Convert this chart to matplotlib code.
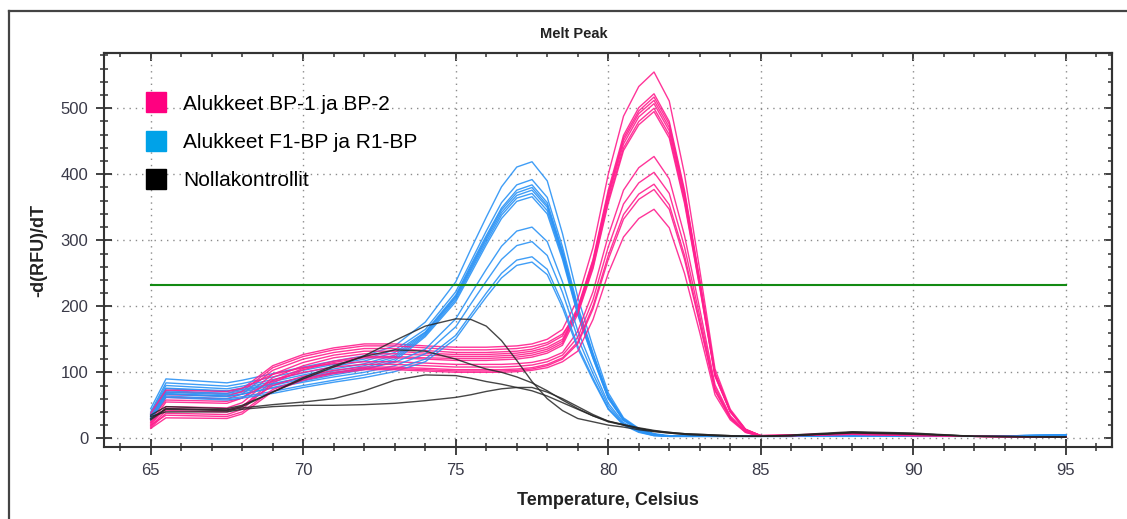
import matplotlib
matplotlib.use('Agg')
import matplotlib.pyplot as plt
from matplotlib.lines import Line2D
from matplotlib.ticker import MultipleLocator

###############################################################################
# Data
###############################################################################

temps = [65, 65.5, 67.5, 68, 69, 70, 71, 72, 73, 74, 75, 75.5, 76, 76.5, 77,
         77.5, 78, 78.5, 79, 79.5, 80, 80.5, 81, 81.5, 82, 82.5, 83, 83.5,
         84, 84.5, 85, 86, 88, 90, 92, 95]

# primers BP-1 / BP-2 (pink)
pink_curves = [
    [30, 70, 68, 75, 110, 127, 137, 143, 143, 140, 138, 138, 138, 139, 140, 143, 150, 165, 211, 289, 400, 488, 533, 555, 511, 400, 255, 105, 44, 14, 4, 4, 7, 5, 3, 2],
    [25, 62, 60, 67, 103, 120, 130, 136, 136, 133, 130, 130, 130, 131, 132, 135, 142, 155, 198, 271, 376, 459, 501, 522, 480, 376, 240, 99, 42, 13, 4, 5, 8, 5, 3, 3],
    [22, 55, 53, 61, 97, 115, 126, 132, 132, 129, 127, 127, 127, 128, 129, 132, 138, 150, 196, 269, 372, 455, 496, 517, 476, 372, 238, 98, 41, 13, 4, 4, 6, 5, 3, 2],
    [20, 48, 46, 54, 92, 110, 122, 128, 128, 126, 124, 124, 124, 125, 126, 129, 135, 147, 195, 266, 369, 451, 492, 512, 471, 369, 236, 97, 41, 13, 4, 5, 7, 5, 3, 3],
    [18, 42, 40, 48, 87, 106, 117, 124, 124, 122, 121, 121, 121, 122, 123, 126, 132, 144, 193, 264, 365, 446, 487, 507, 466, 365, 233, 96, 41, 13, 4, 4, 6, 4, 3, 2],
    [34, 66, 64, 71, 107, 124, 134, 140, 140, 137, 134, 134, 134, 135, 136, 139, 145, 158, 190, 260, 360, 440, 480, 500, 460, 360, 230, 95, 40, 13, 4, 5, 8, 5, 3, 3],
    [16, 38, 36, 44, 84, 104, 115, 122, 122, 120, 118, 118, 118, 119, 120, 123, 129, 141, 188, 257, 356, 436, 475, 495, 455, 356, 228, 94, 40, 12, 4, 4, 6, 4, 3, 2],
    [38, 73, 71, 76, 97, 107, 113, 116, 116, 114, 112, 112, 112, 112, 113, 115, 120, 130, 162, 222, 307, 376, 410, 427, 393, 307, 196, 81, 34, 11, 3, 4, 7, 5, 3, 2],
    [28, 58, 56, 61, 88, 100, 108, 112, 112, 110, 108, 108, 108, 108, 109, 111, 116, 126, 153, 210, 290, 355, 387, 403, 371, 290, 185, 77, 32, 10, 3, 4, 6, 4, 3, 2],
    [24, 45, 43, 49, 80, 94, 103, 108, 108, 106, 104, 104, 104, 104, 105, 107, 112, 122, 146, 200, 277, 339, 370, 385, 354, 277, 177, 73, 31, 10, 3, 4, 7, 5, 3, 2],
    [20, 35, 33, 40, 74, 90, 100, 106, 106, 104, 102, 102, 102, 102, 103, 105, 110, 120, 143, 196, 271, 332, 362, 377, 347, 271, 173, 72, 30, 9, 3, 4, 6, 4, 3, 2],
    [15, 31, 30, 37, 71, 88, 98, 104, 104, 102, 100, 100, 100, 100, 101, 103, 107, 116, 132, 180, 250, 305, 333, 347, 319, 250, 160, 66, 28, 9, 3, 4, 6, 4, 3, 2],
]

# primers F1-BP / R1-BP (blue)
blue_curves = [
    [45, 90, 84, 88, 98, 108, 117, 125, 140, 176, 237, 287, 335, 381, 411, 419, 390, 310, 214, 138, 69, 31, 15, 7, 4, 3, 3, 3, 3, 3, 3, 3, 4, 4, 3, 5],
    [40, 84, 79, 83, 93, 103, 112, 120, 134, 165, 222, 268, 314, 357, 384, 392, 365, 290, 200, 129, 65, 29, 14, 6, 3, 3, 3, 3, 3, 3, 3, 3, 4, 4, 3, 4],
    [38, 80, 75, 79, 89, 99, 109, 117, 130, 161, 217, 263, 307, 349, 376, 384, 357, 284, 196, 127, 63, 29, 13, 6, 3, 3, 3, 3, 3, 3, 3, 3, 4, 3, 3, 5],
    [36, 76, 72, 76, 86, 96, 105, 113, 126, 160, 215, 260, 304, 346, 372, 380, 353, 281, 194, 125, 63, 28, 13, 6, 3, 3, 3, 3, 3, 3, 3, 3, 4, 4, 3, 5],
    [34, 72, 68, 72, 82, 92, 102, 110, 123, 158, 213, 257, 301, 342, 368, 376, 350, 278, 192, 124, 62, 28, 13, 6, 3, 3, 3, 3, 3, 3, 3, 3, 3, 4, 3, 4],
    [33, 70, 66, 70, 80, 90, 99, 107, 120, 156, 210, 254, 297, 338, 364, 371, 345, 275, 189, 122, 61, 28, 13, 6, 3, 3, 3, 3, 3, 3, 3, 3, 4, 4, 3, 5],
    [31, 67, 63, 67, 77, 87, 96, 104, 117, 154, 207, 250, 293, 333, 359, 366, 340, 271, 187, 121, 60, 27, 13, 6, 3, 3, 3, 3, 3, 3, 3, 3, 4, 3, 3, 4],
    [36, 75, 71, 74, 83, 92, 99, 105, 115, 135, 181, 219, 256, 291, 314, 320, 298, 237, 163, 106, 53, 24, 11, 5, 3, 3, 3, 3, 3, 3, 3, 3, 4, 4, 3, 5],
    [32, 68, 64, 67, 76, 85, 93, 100, 110, 128, 169, 204, 238, 271, 292, 298, 277, 221, 152, 98, 49, 22, 10, 5, 3, 3, 3, 3, 3, 3, 3, 3, 3, 4, 3, 4],
    [30, 64, 60, 63, 71, 80, 88, 96, 105, 120, 156, 188, 220, 250, 270, 275, 256, 204, 140, 91, 45, 21, 10, 4, 3, 3, 3, 3, 3, 3, 3, 3, 4, 4, 3, 5],
    [28, 62, 58, 61, 68, 77, 85, 92, 101, 116, 151, 183, 214, 243, 262, 267, 248, 198, 136, 88, 44, 20, 9, 4, 3, 3, 3, 3, 3, 3, 3, 3, 4, 3, 3, 4],
]

# no template controls (black)
black_curves = [
    [35, 48, 45, 50, 70, 90, 108, 125, 148, 170, 181, 180, 170, 148, 118, 86, 60, 42, 30, 25, 20, 17, 13, 10, 8, 6, 5, 4, 3, 3, 3, 4, 9, 7, 3, 2],
    [30, 45, 43, 48, 70, 92, 110, 124, 134, 132, 120, 112, 105, 100, 93, 84, 72, 58, 45, 34, 25, 20, 15, 11, 9, 7, 6, 5, 4, 3, 3, 5, 10, 8, 3, 2],
    [28, 44, 42, 46, 51, 55, 60, 72, 88, 96, 95, 91, 86, 82, 77, 72, 64, 54, 44, 34, 26, 20, 15, 11, 8, 6, 5, 4, 3, 3, 3, 4, 8, 6, 3, 2],
    [33, 40, 40, 44, 48, 50, 50, 51, 53, 57, 62, 66, 71, 75, 77, 77, 70, 60, 48, 36, 26, 21, 16, 12, 9, 7, 6, 5, 4, 3, 3, 4, 9, 7, 3, 2],
]

threshold = 232
threshold_range = [65, 95]

legend_labels = ['Alukkeet BP-1 ja BP-2', 'Alukkeet F1-BP ja R1-BP', 'Nollakontrollit']

###############################################################################
# Style
###############################################################################

pink = '#ff1f8e'
blue = '#2b93f5'
black = '#262626'
legend_colors = ['#ff0080', '#00a2e8', '#000000']
tick_color = '#3a3a48'

plt.rcParams['font.family'] = ['Liberation Sans', 'DejaVu Sans']

fig = plt.figure(figsize=(11.27, 5.19), dpi=100)
ax = fig.add_axes([0.0926, 0.1387, 0.8945, 0.7592])

###############################################################################
# Curves
###############################################################################

for i in range(max(len(pink_curves), len(blue_curves))):
    if i < len(blue_curves):
        ax.plot(temps, blue_curves[i], color=blue, lw=1.0, alpha=0.9, zorder=3)
    if i < len(pink_curves):
        ax.plot(temps, pink_curves[i], color=pink, lw=1.0, alpha=0.9, zorder=3)
for curve in black_curves:
    ax.plot(temps, curve, color=black, lw=1.0, alpha=0.85, zorder=4)

ax.plot(threshold_range, [threshold, threshold], color='#138a13', lw=1.5, zorder=5)

###############################################################################
# Axes
###############################################################################

ax.set_xlim(63.48, 96.53)
ax.set_ylim(-13.2, 583.8)

ax.xaxis.set_major_locator(MultipleLocator(5))
ax.xaxis.set_minor_locator(MultipleLocator(1))
ax.yaxis.set_major_locator(MultipleLocator(100))
ax.yaxis.set_minor_locator(MultipleLocator(20))

ax.tick_params(which='major', direction='inout', length=11, width=1.3,
               color='#333333', labelsize=12, labelcolor=tick_color, pad=6)
ax.tick_params(which='minor', direction='inout', length=6, width=1.1,
               color='#333333')

for s in ax.spines.values():
    s.set_linewidth(1.5)
    s.set_color('#333333')

# inward ticks on top and right spines
secx = ax.secondary_xaxis('top')
secx.xaxis.set_major_locator(MultipleLocator(5))
secx.xaxis.set_minor_locator(MultipleLocator(1))
secx.tick_params(which='major', direction='in', length=6, width=1.3,
                 color='#333333', labeltop=False)
secx.tick_params(which='minor', direction='in', length=3, width=1.1,
                 color='#333333')
secx.spines['top'].set_linewidth(1.5)
secx.spines['top'].set_color('#333333')

secy = ax.secondary_yaxis('right')
secy.yaxis.set_major_locator(MultipleLocator(100))
secy.yaxis.set_minor_locator(MultipleLocator(20))
secy.tick_params(which='major', direction='in', length=6, width=1.3,
                 color='#333333', labelright=False)
secy.tick_params(which='minor', direction='in', length=3, width=1.1,
                 color='#333333')
secy.spines['right'].set_linewidth(1.5)
secy.spines['right'].set_color('#333333')

ax.grid(which='major', linestyle=(0, (1, 3.5)), color='#8c8c8c', lw=1.0)
ax.set_axisbelow(True)

ax.set_xlabel('Temperature, Celsius', fontsize=13, fontweight='bold',
              color='#222222', va='center')
ax.xaxis.set_label_coords(0.5, -0.1345)
ax.set_ylabel('-d(RFU)/dT', fontsize=13, fontweight='bold',
              color='#222222', va='center')
ax.yaxis.set_label_coords(-0.0655, 0.5)

fig.text(574 / 1127, 1 - 34 / 519, 'Melt Peak', fontsize=10.5,
         fontweight='bold', color='#222222', ha='center', va='center')

###############################################################################
# Legend and outer frame
###############################################################################

handles = [Line2D([], [], marker='s', linestyle='none', markersize=14.4,
                  markerfacecolor=c, markeredgecolor=c) for c in legend_colors]
ax.legend(handles, legend_labels, loc='upper left',
          bbox_to_anchor=(145.3 / 1127, 1 - 94.5 / 519),
          bbox_transform=fig.transFigure, frameon=False, fontsize=15,
          handlelength=1.0, handletextpad=0.8, labelspacing=0.93,
          borderpad=0, borderaxespad=0)

fig.add_artist(Line2D([8.5 / 1127, 1], [1 - 11 / 519, 1 - 11 / 519],
                      transform=fig.transFigure, color='#444444', lw=1.6))
fig.add_artist(Line2D([8.5 / 1127, 8.5 / 1127], [0, 1 - 11 / 519],
                      transform=fig.transFigure, color='#444444', lw=1.6))

fig.savefig('out.png', dpi=100)
